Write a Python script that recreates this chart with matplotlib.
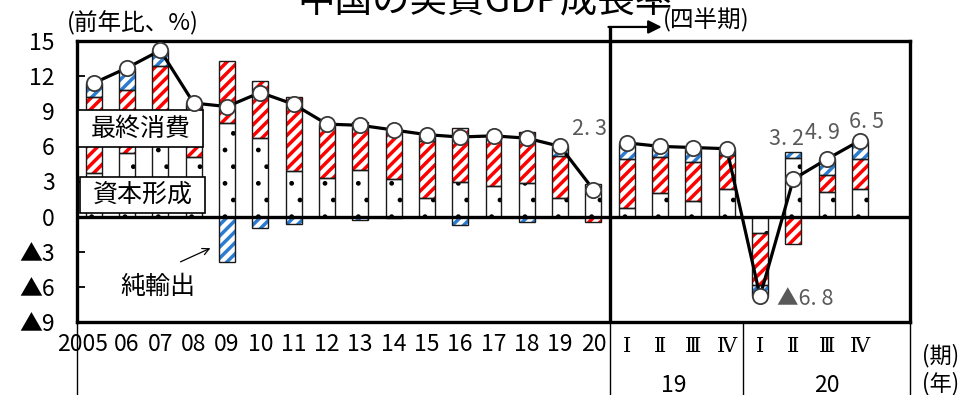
import numpy as np
import matplotlib
matplotlib.use("Agg")
import matplotlib.pyplot as plt
from matplotlib.patches import Rectangle

plt.rcParams["font.family"] = ["Noto Sans CJK JP", "DejaVu Sans"]
ROMAN = ["DejaVu Serif", "Noto Sans CJK JP"]

# 年次（2005〜2020）
years       = ["2005", "06", "07", "08", "09", "10", "11", "12", "13", "14",
               "15", "16", "17", "18", "19", "20"]
gdp_annual  = [11.4, 12.7, 14.2, 9.7, 9.4, 10.6, 9.6, 7.9, 7.8, 7.4,
               7.0, 6.8, 6.9, 6.7, 6.0, 2.3]
inv_annual  = [3.7, 5.4, 6.3, 5.1, 8.0, 6.7, 3.9, 3.3, 4.0, 3.2,
               1.6, 3.0, 2.6, 2.9, 1.6, 2.2]
cons_annual = [6.5, 5.4, 6.6, 4.3, 5.3, 4.9, 6.3, 4.4, 4.1, 4.3,
               4.9, 4.55, 4.0, 4.3, 3.6, -0.5]
nx_annual   = [1.2, 1.9, 1.3, 0.3, -3.9, -1.0, -0.6, 0.2, -0.3, -0.1,
               0.5, -0.75, 0.3, -0.5, 0.8, 0.6]

# 四半期（2019Q1〜2020Q4）
quarters    = ["Ⅰ", "Ⅱ", "Ⅲ", "Ⅳ", "Ⅰ", "Ⅱ", "Ⅲ", "Ⅳ"]
q_years     = ["19", "20"]
gdp_q       = [6.3, 6.0, 5.9, 5.8, -6.8, 3.2, 4.9, 6.5]
inv_q       = [0.7, 2.0, 1.3, 2.4, -1.4, 5.0, 2.1, 2.35]
cons_q      = [4.2, 3.1, 3.4, 2.9, -4.4, -2.3, 1.45, 2.55]
nx_q        = [1.4, 0.9, 1.2, 0.5, -1.0, 0.5, 1.35, 1.6]

y_ticks  = [15, 12, 9, 6, 3, 0, -3, -6, -9]
y_labels = ["15", "12", "9", "6", "3", "0", "▲3", "▲6", "▲9"]

RED  = "#ff0000"
BLUE = "#2b7bd0"
W    = 0.48
NUM_SIZE = 16.5

x_a = np.arange(len(years))
x_q = np.arange(len(quarters)) + len(years)


def fmt(v):
    s = f"{abs(v):.1f}".replace(".", ". ")
    return ("▲" + s) if v < 0 else s


def stacked(ax, xs, parts):
    # 資本形成（点）→ 最終消費（赤斜線）→ 純輸出（青斜線）の順に積み上げ
    styles = [("black", ".", 1.0), (RED, "///", 2.5), (BLUE, "///", 2.5)]
    pos = np.zeros(len(xs))
    neg = np.zeros(len(xs))
    for vals, (hc, hatch, hlw) in zip(parts, styles):
        vals = np.asarray(vals, dtype=float)
        base = np.where(vals >= 0, pos, neg)
        with plt.rc_context({"hatch.linewidth": hlw}):
            bars = ax.bar(xs, vals, bottom=base, width=W, facecolor="white",
                          edgecolor=hc, hatch=hatch, linewidth=0, zorder=2)
        for p in bars:
            if hasattr(p, "set_hatch_linewidth"):
                p.set_hatch_linewidth(hlw)
        ax.bar(xs, vals, bottom=base, width=W, fill=False,
               edgecolor="#1a1a1a", linewidth=1.0, zorder=2.1)
        pos += np.where(vals >= 0, vals, 0)
        neg += np.where(vals < 0, vals, 0)


fig = plt.figure(figsize=(9.74, 3.95), dpi=100)
ax = fig.add_axes([77 / 974, 73 / 395, 833 / 974, 281 / 395])
ax.set_xlim(-0.5, 24.5)
ax.set_ylim(-9, 15)

stacked(ax, x_a, [inv_annual, cons_annual, nx_annual])
stacked(ax, x_q, [inv_q, cons_q, nx_q])

ax.axhline(0, color="black", lw=2.4, zorder=3)

# 成長率の折れ線
for xs, ys in [(x_a, gdp_annual), (x_q, gdp_q)]:
    ax.plot(xs, ys, color="black", lw=2.3, zorder=4)
    ax.plot(xs, ys, ls="none", marker="o", ms=11, mfc="white",
            mec="#3a3a3a", mew=1.3, zorder=5)

# 数値ラベル
lab_style = dict(textcoords="offset points", color="#595959", fontsize=15.5,
                 va="center", annotation_clip=False, zorder=6)
ax.annotate(fmt(gdp_annual[-1]), xy=(x_a[-1], gdp_annual[-1]),
            xytext=(-3, 44), ha="center", **lab_style)
ax.annotate(fmt(gdp_q[4]), xy=(x_q[4], gdp_q[4]), xytext=(12, -2),
            ha="left", **lab_style)
ax.annotate(fmt(gdp_q[5]), xy=(x_q[5], gdp_q[5]), xytext=(-5, 29),
            ha="center", **lab_style)
ax.annotate(fmt(gdp_q[6]), xy=(x_q[6], gdp_q[6]), xytext=(-3, 19),
            ha="center", **lab_style)
ax.annotate(fmt(gdp_q[7]), xy=(x_q[7], gdp_q[7]), xytext=(5, 13),
            ha="center", **lab_style)

# 凡例代わりのボックス
for (x0, x1, y0, y1, txt) in [(-0.47, 3.28, 5.95, 9.11, "最終消費"),
                              (-0.41, 3.34, 0.31, 3.38, "資本形成")]:
    ax.add_patch(Rectangle((x0, y0), x1 - x0, y1 - y0, facecolor="white",
                           edgecolor="black", lw=1.2, zorder=3.5))
    ax.text((x0 + x1) / 2, (y0 + y1) / 2, txt, ha="center", va="center",
            fontsize=18, zorder=3.6)

ax.text(1.93, -6.0, "純輸出", ha="center", va="center", fontsize=18, zorder=3.6)
ax.annotate("", xy=(3.58, -2.6), xytext=(2.53, -3.96),
            arrowprops=dict(arrowstyle="->", color="black", lw=0.9,
                            mutation_scale=12), zorder=3.6)

# 枠・目盛
for s in ax.spines.values():
    s.set_linewidth(2.4)
ax.set_xticks([])
ax.set_yticks(y_ticks)
ax.set_yticklabels(y_labels, fontsize=NUM_SIZE)
ax.tick_params(axis="y", direction="in", length=6, width=1.3, pad=16)

# 年次と四半期の区切り
ax.plot([15.5, 15.5], [-9, 16.2], color="black", lw=2.4, clip_on=False,
        zorder=6, solid_capstyle="butt")
ax.annotate("", xy=(17.05, 16.2), xytext=(15.45, 16.2),
            arrowprops=dict(arrowstyle="-|>", color="black", lw=1.6,
                            mutation_scale=20, shrinkA=0, shrinkB=0),
            annotation_clip=False)
for xv in [-0.5, 15.5, 19.5, 24.5]:
    ax.plot([xv, xv], [-9, -16], color="black", lw=1.0, clip_on=False)


# 軸下のラベル
def below(x, txt, dy, **kw):
    ax.annotate(txt, xy=(x, 0), xycoords=("data", "axes fraction"),
                xytext=(0, dy), textcoords="offset points", va="center",
                annotation_clip=False, **kw)


for i, y in enumerate(years):
    if i == 0:
        below(x_a[i] + 0.43, y, -16, ha="right", fontsize=NUM_SIZE)
    else:
        below(x_a[i], y, -16, ha="center", fontsize=NUM_SIZE)
for x, q in zip(x_q, quarters):
    below(x, q, -18, ha="center", family=ROMAN, fontsize=15)
below(17.4, q_years[0], -46, ha="center", fontsize=NUM_SIZE)
below(22.0, q_years[1], -46, ha="center", fontsize=NUM_SIZE)
below(25.43, "(期)", -24, ha="center", fontsize=16)
below(25.43, "(年)", -44, ha="center", fontsize=16)

ax.text(-0.8, 16.55, "(前年比、%)", ha="left", va="center", fontsize=17,
        clip_on=False)
ax.text(17.08, 16.8, "(四半期)", ha="left", va="center", fontsize=17,
        clip_on=False)

fig.text(0.498, 0.995, "中国の実質GDP成長率", ha="center", va="center",
         fontsize=27)

fig.savefig("out.png", dpi=100)
